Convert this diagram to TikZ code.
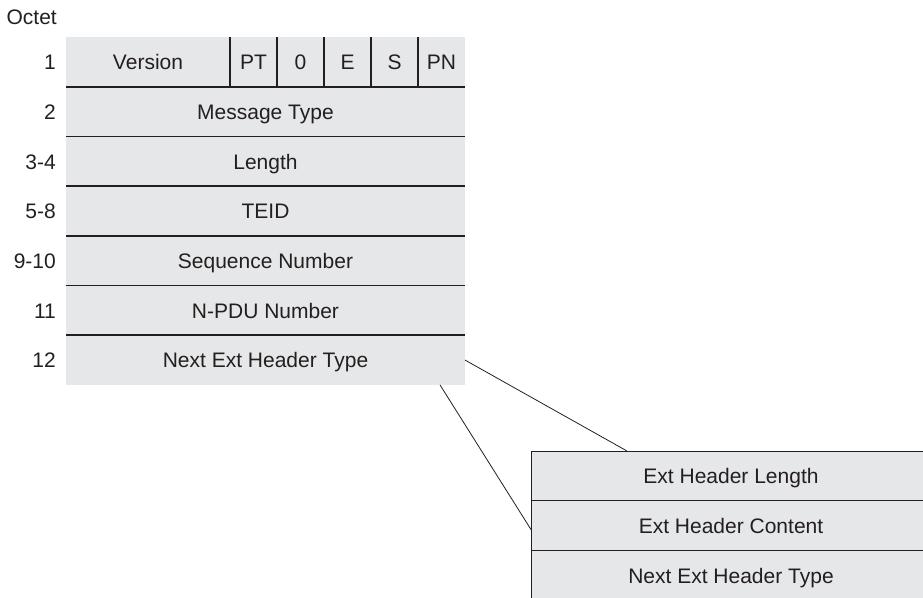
\documentclass[tikz,border=0pt]{standalone}
\usepackage{fontspec}
\setmainfont{Liberation Sans}
\usetikzlibrary{positioning}
\definecolor{feld}{HTML}{E6E7E8}
\definecolor{tinte}{HTML}{231F20}
\tikzset{
  schrift/.style={font=\fontsize{21}{25}\selectfont, text=tinte, text height=15.5pt, text depth=0pt},
  feld/.style={schrift, fill=feld, inner sep=0pt, outer sep=0pt, minimum height=49.7pt},
  zeile/.style={feld, minimum width=399pt},
  bit/.style={feld, minimum width=47pt},
  oktett/.style={schrift, inner sep=0pt},
  trenn/.style={draw=tinte, line width=1.6pt},
  duenn/.style={draw=tinte, line width=1pt},
  linie/.style={draw=tinte, line width=0.8pt},
}

\begin{document}
\begin{tikzpicture}[x=1pt, y=-1pt, node distance=0pt]
    \useasboundingbox (0,0) rectangle (923,597);

    % GTP-U header
    \node[feld, minimum width=164pt, anchor=north west] (ver) at (66,37) {Version};
    \node[bit, right=of ver] (pt) {PT};
    \node[bit, right=of pt] (null) {0};
    \node[bit, right=of null] (e) {E};
    \node[bit, right=of e] (s) {S};
    \node[bit, right=of s] (pn) {PN};
    \node[zeile, below=of ver.south west, anchor=north west] (typ) {Message Type};
    \node[zeile, below=of typ] (laenge) {Length};
    \node[zeile, below=of laenge] (teid) {TEID};
    \node[zeile, below=of teid] (seq) {Sequence Number};
    \node[zeile, below=of seq] (npdu) {N-PDU Number};
    \node[zeile, below=of npdu] (next) {Next Ext Header Type};

    % octet numbers
    \node[oktett, anchor=base east] (octet) at (57,24.5) {Octet};
    \node[oktett, left=10pt of ver] (o1) {1};
    \node[oktett, left=10pt of typ] (o2) {2};
    \node[oktett, left=10pt of laenge] (o34) {3-4};
    \node[oktett, left=10pt of teid] (o58) {5-8};
    \node[oktett, left=10pt of seq] (o910) {9-10};
    \node[oktett, left=10pt of npdu] (o11) {11};
    \node[oktett, left=10pt of next] (o12) {12};

    \foreach \b in {pt,null,e,s,pn}
      \draw[trenn] (\b.north west) -- (\b.south west);
    \draw[trenn] (ver.south west) -- (pn.south east);
    \foreach \z in {typ,laenge,teid,seq,npdu}
      \draw[trenn] (\z.south west) -- (\z.south east);

    % extension header
    \node[feld, minimum width=400pt, anchor=north west] (el) at (531,451) {Ext Header Length};
    \node[feld, minimum width=400pt, below=of el] (ec) {Ext Header Content};
    \node[feld, minimum width=400pt, below=of ec] (en) {Next Ext Header Type};

    \draw[duenn] (en.south west) -- (el.north west) -- (el.north east);
    \draw[duenn] (el.south west) -- (el.south east);
    \draw[duenn] (ec.south west) -- (ec.south east);

    \draw[linie] (next.east) -- ([xshift=96pt]el.north west);
    \draw[linie] ([xshift=-25pt]next.south east) -- ([yshift=-4pt]ec.west);
  \end{tikzpicture}
\end{document}
